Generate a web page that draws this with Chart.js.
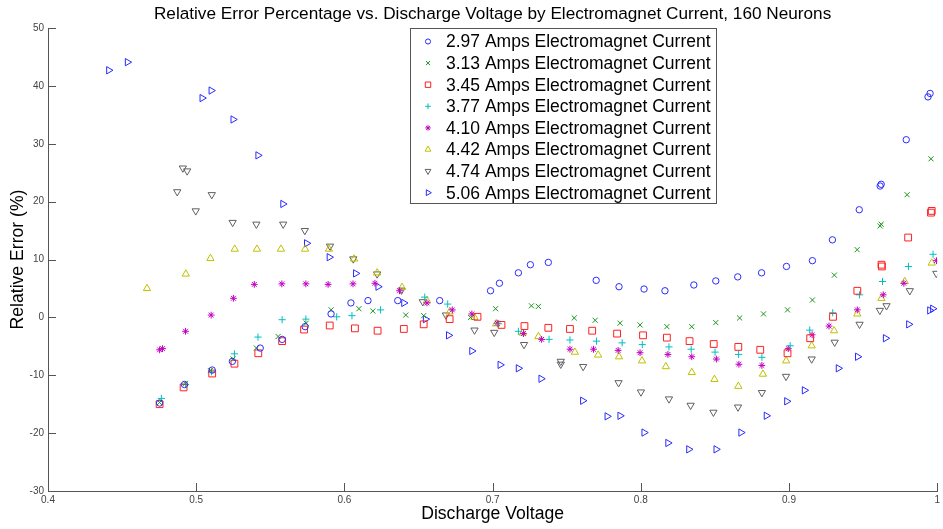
<!DOCTYPE html>
<html>
<head>
<meta charset="utf-8">
<script src="https://cdn.jsdelivr.net/npm/chart.js@4.4.1/dist/chart.umd.min.js"></script>
<style>
  html, body { margin: 0; padding: 0; background: #ffffff; }
  #wrap { width: 943px; height: 529px; }
  canvas { display: block; }
</style>
</head>
<body>
<div id="wrap"><canvas id="c" width="943" height="529"></canvas></div>
<script>
// ---------------- DATA ----------------
const chartTitle = 'Relative Error Percentage vs. Discharge Voltage by Electromagnet Current, 160 Neurons';
const xTitle = 'Discharge Voltage';
const yTitle = 'Relative Error (%)';
const seriesLabels = [
  '2.97 Amps Electromagnet Current',
  '3.13 Amps Electromagnet Current',
  '3.45 Amps Electromagnet Current',
  '3.77 Amps Electromagnet Current',
  '4.10 Amps Electromagnet Current',
  '4.42 Amps Electromagnet Current',
  '4.74 Amps Electromagnet Current',
  '5.06 Amps Electromagnet Current'
];
const xTickValues = [0.4, 0.5, 0.6, 0.7, 0.8, 0.9, 1.0];
const yTickValues = [-30, -20, -10, 0, 10, 20, 30, 40, 50];

const volts297 = [0.4753,0.4921,0.5108,0.5244,0.5432,0.5580,0.5735,0.5910,0.6044,0.6159,0.6360,0.6643,0.6986,0.7046,0.7174,0.7255,0.7376,0.7699,0.7853,0.8022,0.8163,0.8358,0.8506,0.8654,0.8815,0.8983,0.9158,0.9293,0.9474,0.9615,0.9622,0.9791,0.9938,0.9952];
const err297   = [-14.8,-11.6,-9.1,-7.6,-5.3,-3.8,-1.6,0.6,2.5,2.9,2.9,2.9,4.6,5.9,7.7,9.1,9.5,6.4,5.3,4.9,4.6,5.6,6.3,7.0,7.7,8.8,9.8,13.4,18.6,22.7,23.0,30.7,38.1,38.7];

const volts313 = [0.4753,0.4928,0.5096,0.5249,0.5406,0.5553,0.5742,0.5910,0.6098,0.6192,0.6414,0.6535,0.6851,0.7020,0.7262,0.7309,0.7551,0.7692,0.7860,0.7995,0.8176,0.8344,0.8506,0.8667,0.8828,0.8990,0.9158,0.9306,0.9460,0.9615,0.9622,0.9797,0.9958];
const err313   = [-14.7,-11.4,-9.2,-7.2,-5.3,-3.3,-1.0,1.3,1.5,1.1,0.4,0.3,0.0,1.5,2.0,1.9,-0.1,-0.5,-1.0,-1.3,-1.6,-1.6,-0.9,-0.1,0.6,1.3,3.0,7.3,11.7,15.8,16.1,21.2,27.4];

const volts345 = [0.4753,0.4915,0.5108,0.5258,0.5419,0.5580,0.5728,0.5901,0.6071,0.6224,0.6401,0.6535,0.6710,0.6898,0.7060,0.7215,0.7376,0.7522,0.7672,0.7840,0.8015,0.8176,0.8329,0.8492,0.8658,0.8806,0.8990,0.9143,0.9297,0.9461,0.9624,0.9627,0.9804,0.9958,0.9963];
const err345   = [-15.0,-12.1,-9.7,-8.0,-6.2,-4.1,-2.1,-1.4,-1.9,-2.3,-2.0,-1.2,-0.3,0.1,-1.3,-1.5,-1.8,-2.0,-2.3,-2.8,-3.1,-3.5,-4.1,-4.6,-5.1,-5.6,-6.2,-3.6,0.1,4.6,9.1,8.8,13.8,18.1,18.4];

const volts377 = [0.4765,0.4928,0.5103,0.5258,0.5417,0.5580,0.5740,0.5948,0.6051,0.6244,0.6542,0.6697,0.7040,0.7174,0.7381,0.7522,0.7701,0.7874,0.8010,0.8190,0.8340,0.8501,0.8660,0.8817,0.9008,0.9140,0.9295,0.9476,0.9631,0.9806,0.9972];
const err377   = [-14.0,-11.6,-9.4,-6.3,-3.4,-0.4,-0.3,0.1,0.3,1.3,3.5,2.3,-1.1,-2.4,-3.8,-3.9,-4.1,-4.4,-4.7,-5.1,-5.5,-6.0,-6.4,-6.9,-4.9,-2.2,0.8,3.9,6.2,8.8,10.9];

const volts410 = [0.4753,0.4773,0.4928,0.5101,0.5251,0.5392,0.5578,0.5740,0.5890,0.6058,0.6206,0.6372,0.6557,0.6728,0.6860,0.7031,0.7208,0.7331,0.7522,0.7681,0.7847,0.7995,0.8183,0.8344,0.8510,0.8662,0.8817,0.8995,0.9156,0.9270,0.9461,0.9636,0.9775,0.9995];
const err410   = [-5.6,-5.4,-2.4,0.4,3.3,5.7,5.8,5.8,5.7,5.8,5.9,4.6,2.5,1.3,0.6,-1.0,-2.8,-3.8,-5.5,-5.5,-5.7,-6.1,-6.4,-6.8,-7.2,-8.1,-8.3,-5.4,-3.0,-1.5,1.3,3.9,5.9,9.8];

const volts442 = [0.4668,0.4930,0.5096,0.5260,0.5410,0.5572,0.5735,0.5896,0.6065,0.6221,0.6389,0.6557,0.6710,0.6878,0.7024,0.7203,0.7309,0.7555,0.7712,0.7853,0.8008,0.8169,0.8344,0.8497,0.8658,0.8824,0.8981,0.9153,0.9304,0.9461,0.9624,0.9781,0.9963];
const err442   = [5.0,7.5,10.2,11.8,11.8,11.8,11.8,11.8,10.1,7.7,5.2,2.9,0.95,0.0,-1.1,-2.7,-3.3,-6.0,-6.5,-6.8,-7.5,-8.5,-9.5,-10.7,-11.9,-9.8,-7.5,-4.9,-2.3,0.6,3.3,6.2,9.4];

const volts474 = [0.4872,0.4910,0.4939,0.4997,0.5105,0.5246,0.5406,0.5587,0.5733,0.5903,0.6060,0.6221,0.6385,0.6529,0.6685,0.6878,0.7011,0.7212,0.7460,0.7460,0.7611,0.7850,0.8001,0.8190,0.8336,0.8490,0.8656,0.8817,0.8980,0.9153,0.9308,0.9476,0.9613,0.9658,0.9815,0.9994];
const err474   = [21.7,25.8,25.3,18.4,21.2,16.4,16.1,16.1,15.0,12.3,10.1,7.5,4.7,2.7,0.4,-2.2,-2.6,-4.7,-7.6,-8.1,-8.5,-11.3,-12.9,-14.1,-15.2,-16.4,-15.5,-13.0,-10.2,-7.2,-4.3,-1.2,1.2,2.0,4.6,7.6];

const volts506 = [0.4410,0.4536,0.5040,0.5101,0.5249,0.5417,0.5585,0.5745,0.5898,0.6076,0.6227,0.6401,0.6547,0.6703,0.6860,0.7051,0.7174,0.7327,0.7608,0.7773,0.7860,0.8022,0.8183,0.8324,0.8508,0.8676,0.8847,0.8985,0.9104,0.9333,0.9463,0.9651,0.9808,0.9950,0.9970];
const err506   = [42.7,44.1,37.9,39.2,34.2,28.0,19.6,12.8,10.4,7.6,5.3,2.5,-0.3,-3.1,-5.8,-8.2,-8.8,-10.6,-14.4,-17.1,-17.0,-19.9,-21.7,-22.8,-22.8,-19.9,-17.0,-14.5,-12.6,-8.8,-6.8,-3.6,-1.2,1.2,1.5];

// ---------------- STYLE ----------------
const seriesX = [volts297, volts313, volts345, volts377, volts410, volts442, volts474, volts506];
const seriesY = [err297, err313, err345, err377, err410, err442, err474, err506];
const markerStyles = [
  { pointStyle: 'circle',   rotation: 0,   radius: 3.2, color: '#2a2aff' },
  { pointStyle: 'crossRot', rotation: 0,   radius: 3.6, color: '#1a961a' },
  { pointStyle: 'rect',     rotation: 0,   radius: 4.8, color: '#ff2020' },
  { pointStyle: 'cross',    rotation: 0,   radius: 3.6, color: '#00c0c0' },
  { pointStyle: 'star',     rotation: 0,   radius: 3.4, color: '#c000c0' },
  { pointStyle: 'triangle', rotation: 0,   radius: 4.2, color: '#c0c000' },
  { pointStyle: 'triangle', rotation: 180, radius: 4.2, color: '#606060' },
  { pointStyle: 'triangle', rotation: 90,  radius: 4.2, color: '#2a2aff' }
];

const sans = "'Liberation Sans', Arial, Helvetica, sans-serif";
const narrow = "'Liberation Sans Narrow', 'Arial Narrow', 'Liberation Sans', Arial, sans-serif";

const datasets = seriesLabels.map((lab, i) => ({
  label: lab,
  data: seriesX[i].map((x, j) => ({ x: x, y: seriesY[i][j] })),
  showLine: false,
  pointStyle: markerStyles[i].pointStyle,
  pointRotation: markerStyles[i].rotation,
  pointRadius: markerStyles[i].radius,
  pointHoverRadius: markerStyles[i].radius,
  pointBorderWidth: 1,
  pointBorderColor: markerStyles[i].color,
  pointBackgroundColor: 'rgba(0,0,0,0)',
  borderColor: markerStyles[i].color,
  backgroundColor: 'rgba(0,0,0,0)'
}));

// inward tick marks (MATLAB style) + boxed legend
const decorPlugin = {
  id: 'decor',
  afterDraw(chart) {
    const ctx = chart.ctx;
    const xs = chart.scales.x, ys = chart.scales.y;
    const area = chart.chartArea;
    const tickLen = 8;
    ctx.save();
    ctx.strokeStyle = '#555555';
    ctx.lineWidth = 1;
    ctx.beginPath();
    xTickValues.forEach(v => {
      const px = Math.round(xs.getPixelForValue(v)) + 0.5;
      ctx.moveTo(px, area.bottom);
      ctx.lineTo(px, area.bottom - tickLen);
    });
    yTickValues.forEach(v => {
      const py = Math.round(ys.getPixelForValue(v)) + 0.5;
      ctx.moveTo(area.left, py);
      ctx.lineTo(area.left + tickLen, py);
    });
    ctx.stroke();

    // legend
    const lx = 410.5, ly = 28.5, lw = 306, lh = 175;
    ctx.fillStyle = '#ffffff';
    ctx.fillRect(lx, ly, lw, lh);
    ctx.strokeStyle = '#555555';
    ctx.strokeRect(lx, ly, lw, lh);
    ctx.font = '17.5px ' + sans;
    ctx.textBaseline = 'middle';
    ctx.textAlign = 'left';
    seriesLabels.forEach((lab, i) => {
      const cy = 41.5 + i * 21.6;
      const m = markerStyles[i];
      ctx.strokeStyle = m.color;
      ctx.fillStyle = 'rgba(0,0,0,0)';
      ctx.lineWidth = 1;
      Chart.helpers.drawPoint(ctx, {
        pointStyle: m.pointStyle, rotation: m.rotation,
        radius: m.radius * 0.8, borderWidth: 1
      }, 428, cy);
      ctx.fillStyle = '#000000';
      ctx.fillText(lab, 446, cy + 1);
    });
    ctx.restore();
  }
};

new Chart(document.getElementById('c'), {
  type: 'scatter',
  data: { datasets: datasets },
  plugins: [decorPlugin],
  options: {
    responsive: false,
    animation: false,
    devicePixelRatio: 1,
    layout: { padding: { left: 0, right: 2, top: 0, bottom: 0 } },
    plugins: {
      legend: { display: false },
      tooltip: { enabled: false },
      title: {
        display: true,
        text: chartTitle,
        fullSize: false,
        color: '#000000',
        font: { family: sans, size: 17.2, weight: 'normal' },
        padding: { top: 4, bottom: 3.4 }
      }
    },
    scales: {
      x: {
        type: 'linear',
        min: 0.4, max: 1.0,
        afterBuildTicks(scale) { scale.ticks = xTickValues.map(v => ({ value: v })); },
        afterFit(scale) { scale.height = 38; },
        ticks: {
          autoSkip: false, maxRotation: 0, minRotation: 0,
          padding: 3,
          color: '#444444',
          font: { family: narrow, size: 10 },
          callback: v => String(Number(v.toFixed(1)))
        },
        grid: { display: true, drawOnChartArea: false, drawTicks: false },
        border: { display: true, color: '#555555', width: 1 },
        title: {
          display: true, text: xTitle, color: '#000000',
          font: { family: sans, size: 17.6, weight: 'normal' },
          padding: { top: 0, bottom: 4.5 }
        }
      },
      y: {
        type: 'linear',
        min: -30, max: 50,
        afterBuildTicks(scale) { scale.ticks = yTickValues.map(v => ({ value: v })); },
        afterFit(scale) { scale.width = 48; },
        ticks: {
          autoSkip: false,
          padding: 4,
          color: '#444444',
          font: { family: narrow, size: 10 },
          callback: v => String(v)
        },
        grid: { display: true, drawOnChartArea: false, drawTicks: false },
        border: { display: true, color: '#555555', width: 1 },
        title: {
          display: true, text: yTitle, color: '#000000',
          font: { family: sans, size: 17.6, weight: 'normal' },
          padding: { top: 7.5, bottom: 0 }
        }
      }
    }
  }
});
</script>
</body>
</html>
